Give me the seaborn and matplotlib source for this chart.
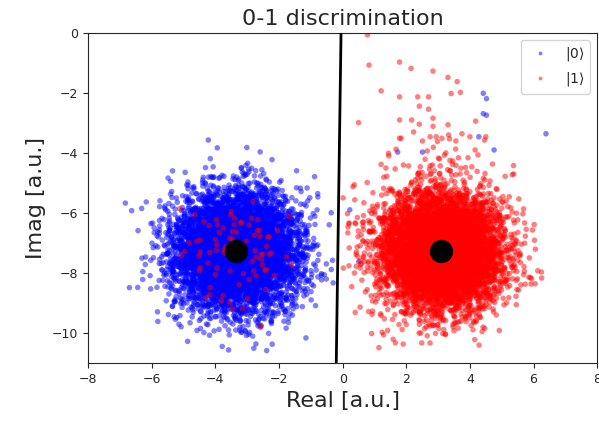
import numpy as np
import pandas as pd
import matplotlib
matplotlib.use("Agg")
import matplotlib.pyplot as plt
import seaborn as sns

# cloud parameters (centre, spread, number of shots)
center_0 = (-3.35, -7.27)
center_1 = (3.10, -7.27)
spread = 0.95
n_shots = 7000
n_flip = 90          # |1> shots that land in the |0> cloud

# hand-read outliers of the |1> shots above the red cloud
tail1_x = [0.78, 0.83, 1.79, 2.15, 2.84, 3.31, 3.60, 1.21, 1.79, 2.36, 2.70, 3.41, 3.70,
           2.41, 2.70, 0.50, 1.79, 2.17, 2.41, 2.84, 2.84, 3.31, 4.18, 2.23, 1.79, 1.84,
           2.75, 2.94, 3.12, 3.33, 3.75, 4.00, 4.50, 4.46, 2.51, 2.98, 3.36, 3.56, 2.85,
           3.55, 1.44, 1.45, 2.59, 3.01, 3.20, 3.64, 3.94, 1.21, 1.65, 1.91, 2.44, 2.75,
           3.07, 3.45, 4.06, 4.71, 5.37]
tail1_y = [-0.06, -1.07, -0.97, -1.18, -1.27, -1.48, -1.62, -1.93, -2.13, -2.13, -2.13,
           -2.02, -1.98, -2.44, -2.54, -2.99, -2.90, -2.90, -3.04, -2.84, -3.11, -3.06,
           -2.94, -3.30, -3.51, -3.51, -3.46, -3.46, -3.51, -3.40, -3.36, -3.46, -3.46,
           -3.57, -3.60, -3.62, -3.53, -3.60, -3.81, -3.87, -4.01, -4.10, -4.21, -4.17,
           -4.07, -4.16, -4.16, -4.38, -4.53, -4.40, -4.46, -4.43, -4.43, -4.38, -4.46,
           -4.37, -4.42]

# |0> shots seen inside the red tail
tail0_x = [4.42, 4.52, 4.42, 4.52, 4.28, 4.76, 6.39, 1.73, 2.51]
tail0_y = [-2.01, -2.19, -2.69, -2.74, -3.46, -3.90, -3.36, -3.97, -3.97]

centroid_x = [-3.35, 3.10]
centroid_y = [-7.27, -7.27]

line_x = [-0.20, -0.05]
line_y = [-11.0, 0.0]

labels = [r'$|0\rangle$', r'$|1\rangle$']

rng = np.random.default_rng(7)
n0 = n_shots - len(tail0_x)
n1 = n_shots - len(tail1_x) - n_flip
x0 = np.concatenate([rng.normal(center_0[0], spread, n0), tail0_x])
y0 = np.concatenate([rng.normal(center_0[1], spread, n0), tail0_y])
x1 = np.concatenate([rng.normal(center_0[0], spread * 0.9, n_flip),
                     rng.normal(center_1[0], spread, n1), tail1_x])
y1 = np.concatenate([rng.normal(center_0[1], spread * 0.9, n_flip),
                     rng.normal(center_1[1], spread, n1), tail1_y])

df = pd.DataFrame({
    'Real': np.concatenate([x0, x1]),
    'Imag': np.concatenate([y0, y1]),
    'state': [labels[0]] * len(x0) + [labels[1]] * len(x1),
})

sns.set_style("ticks")
fig = plt.figure(figsize=(5.99, 4.23), dpi=100)
ax = fig.add_axes([0.147, 0.142, 0.85, 0.78])

sns.scatterplot(data=df, x='Real', y='Imag', hue='state',
                palette={labels[0]: 'blue', labels[1]: 'red'},
                s=16, alpha=0.5, linewidth=0, ax=ax)
ax.scatter(centroid_x, centroid_y, s=250, color='black', zorder=3)
ax.plot(line_x, line_y, color='black', lw=2, zorder=3)

ax.set_xlim(-8, 8)
ax.set_ylim(-11, 0)
ax.set_xticks(np.arange(-8, 9, 2))
ax.set_yticks(np.arange(-10, 1, 2))
ax.tick_params(labelsize=9)
ax.set_xlabel('Real [a.u.]', fontsize=16)
ax.set_ylabel('Imag [a.u.]', fontsize=16)
ax.set_title('0-1 discrimination', fontsize=16)

handles, labs = ax.get_legend_handles_labels()
ax.legend(handles, labs, loc='upper right', fontsize=10, title=None,
          markerscale=0.7, frameon=True)

fig.savefig('out.png', dpi=100)
